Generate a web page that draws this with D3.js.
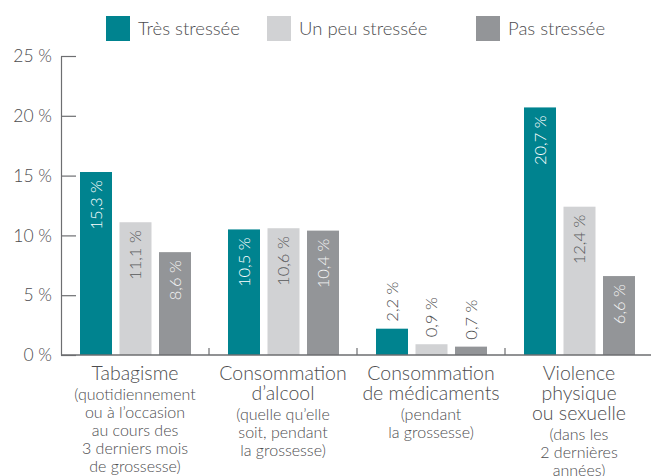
<!DOCTYPE html>
<html>
<head>
<meta charset="utf-8">
<script src="https://cdn.jsdelivr.net/npm/d3@7"></script>
<style>
  body { margin: 0; background: #fff; }
  svg { display: block; font-family: Lato, "Open Sans", sans-serif; font-weight: 300; }
</style>
</head>
<body>
<svg id="chart" width="651" height="476"></svg>
<script>
const categories = ["tabac", "alcool", "medicaments", "violence"];
const titleLines = [
  ["Tabagisme"],
  ["Consommation", "d’alcool"],
  ["Consommation", "de médicaments"],
  ["Violence", "physique", "ou sexuelle"]
];
const subLines = [
  ["(quotidiennement", "ou à l’occasion", "au cours des", "3 derniers mois", "de grossesse)"],
  ["(quelle qu’elle", "soit, pendant", "la grossesse)"],
  ["(pendant", "la grossesse)"],
  ["(dans les", "2 dernières", "années)"]
];
const series = ["Très stressée", "Un peu stressée", "Pas stressée"];
const tres = [15.3, 10.5, 2.2, 20.7];
const unPeu = [11.1, 10.6, 0.9, 12.4];
const pas = [8.6, 10.4, 0.7, 6.6];
const yTicks = [0, 5, 10, 15, 20, 25];

const colors = ["#00838f", "#d1d2d4", "#939598"];
const insideText = ["#ffffff", "#58595b", "#f4f4f4"];
const textColor = "#4d4d4f";
const axisColor = "#6d6e71";

const values = [tres, unPeu, pas];
const rows = categories.map((c, i) => ({
  cat: c,
  vals: series.map((s, j) => ({ s, j, v: values[j][i] }))
}));

const svg = d3.select("#chart");
const mLeft = 61, mRight = 653, mBottom = 355, mTop = 56;

const x0 = d3.scaleBand().domain(categories).range([mLeft, mRight]);
const x1 = d3.scaleBand().domain(series).range([19, 130]).paddingInner(0.19);
const y = d3.scaleLinear().domain([0, 25]).range([mBottom, mTop]);

// y axis
const yAxis = svg.append("g")
  .attr("transform", `translate(${mLeft},0)`)
  .call(d3.axisLeft(y).tickValues(yTicks).tickSizeInner(-15).tickSizeOuter(0)
    .tickPadding(9).tickFormat(d => d + " %"));
yAxis.select(".domain").attr("stroke", axisColor).attr("stroke-width", 1.2);
yAxis.selectAll(".tick line").attr("stroke", axisColor).attr("stroke-width", 1.2);
yAxis.selectAll(".tick text")
  .attr("fill", textColor).attr("font-size", 17.5).attr("font-family", "Lato, sans-serif");

// bars
const groups = svg.append("g").selectAll("g")
  .data(rows)
  .join("g")
  .attr("transform", d => `translate(${x0(d.cat)},0)`);

groups.selectAll("rect")
  .data(d => d.vals)
  .join("rect")
  .attr("x", d => x1(d.s))
  .attr("width", x1.bandwidth())
  .attr("y", d => y(d.v))
  .attr("height", d => y(0) - y(d.v))
  .attr("fill", d => colors[d.j]);

groups.selectAll("text")
  .data(d => d.vals)
  .join("text")
  .attr("transform", d => {
    const cx = x1(d.s) + x1.bandwidth() / 2;
    const ty = d.v < 3 ? y(d.v) - 7 : y(d.v) + 8;
    return `translate(${cx},${ty}) rotate(-90)`;
  })
  .attr("text-anchor", d => d.v < 3 ? "start" : "end")
  .attr("dy", "0.35em")
  .attr("font-size", 16.5)
  .attr("fill", d => d.v < 3 ? textColor : insideText[d.j])
  .text(d => d3.format(".1f")(d.v).replace(".", ",") + " %");

// baseline and group separators
svg.append("line")
  .attr("x1", mLeft).attr("x2", 651)
  .attr("y1", mBottom).attr("y2", mBottom)
  .attr("stroke", axisColor).attr("stroke-width", 1.5);

svg.append("g").selectAll("line")
  .data(categories.slice(1))
  .join("line")
  .attr("x1", d => x0(d)).attr("x2", d => x0(d))
  .attr("y1", mBottom).attr("y2", mBottom - 7)
  .attr("stroke", axisColor).attr("stroke-width", 1.2);

// category labels
const labels = svg.append("g").selectAll("text")
  .data(categories)
  .join("text")
  .attr("text-anchor", "middle")
  .attr("fill", textColor);

labels.each(function (c, i) {
  const t = d3.select(this);
  const cx = x0(c) + x0.bandwidth() / 2;
  const nT = titleLines[i].length;
  titleLines[i].forEach((line, k) => {
    t.append("tspan").attr("x", cx).attr("y", 373 + 20 * k)
      .attr("dy", "0.35em").attr("font-size", 19.5).text(line);
  });
  subLines[i].forEach((line, k) => {
    t.append("tspan").attr("x", cx).attr("y", 373 + 20 * (nT - 1) + 21 + 18 * k)
      .attr("dy", "0.35em").attr("font-size", 16).text(line);
  });
});

// legend
const legendX = [106, 267, 476];
const legend = svg.append("g").selectAll("g")
  .data(series)
  .join("g")
  .attr("transform", (d, i) => `translate(${legendX[i]},16)`);
legend.append("rect")
  .attr("width", 24).attr("height", 25)
  .attr("fill", (d, i) => colors[i]);
legend.append("text")
  .attr("x", 32).attr("y", 13).attr("dy", "0.35em")
  .attr("font-size", 18.5).attr("fill", textColor)
  .text(d => d);
</script>
</body>
</html>
